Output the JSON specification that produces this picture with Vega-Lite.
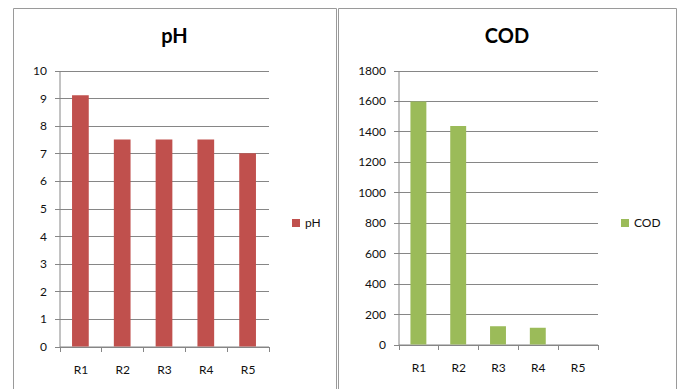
{
  "$schema": "https://vega.github.io/schema/vega-lite/v6.json",
  "background": "white",
  "padding": {"left": 12, "top": 7, "right": 0, "bottom": 0},
  "spacing": 0,
  "resolve": {"scale": {"color": "independent"}, "legend": {"color": "independent"}},
  "datasets": {
    "ph": [
      {"site": "R1", "series": "pH", "value": 9.1},
      {"site": "R2", "series": "pH", "value": 7.5},
      {"site": "R3", "series": "pH", "value": 7.5},
      {"site": "R4", "series": "pH", "value": 7.5},
      {"site": "R5", "series": "pH", "value": 7.0}
    ],
    "cod": [
      {"site": "R1", "series": "COD", "value": 1596},
      {"site": "R2", "series": "COD", "value": 1435},
      {"site": "R3", "series": "COD", "value": 120},
      {"site": "R4", "series": "COD", "value": 110},
      {"site": "R5", "series": "COD", "value": 0}
    ]
  },
  "config": {
    "view": {"stroke": "#9a9a9a", "strokeWidth": 1, "fill": "white"},
    "axis": {
      "labelFont": "Lato",
      "labelFontSize": 12,
      "labelColor": "#111111",
      "domainColor": "#868686",
      "tickColor": "#868686",
      "gridColor": "#868686",
      "tickSize": 5,
      "title": null
    },
    "legend": {
      "labelFont": "Lato",
      "labelFontSize": 12,
      "labelColor": "#111111"
    },
    "title": {"font": "Lato", "fontSize": 20, "fontWeight": "bold", "color": "#000000"}
  },
  "hconcat": [
    {
      "width": 323,
      "height": 385,
      "title": {"text": "pH", "anchor": "middle", "baseline": "middle", "offset": -49},
      "data": {"name": "ph"},
      "mark": {"type": "bar", "width": {"band": 0.4}, "color": "#C0504D"},
      "encoding": {
        "x": {
          "field": "site",
          "type": "nominal",
          "sort": null,
          "scale": {"range": [46.5, 255.5], "paddingInner": 0, "paddingOuter": 0},
          "axis": {"labelAngle": 0, "tickBand": "extent", "offset": -46.5, "labelBaseline": "middle", "labelPadding": 18, "grid": false}
        },
        "y": {
          "field": "value",
          "type": "quantitative",
          "scale": {"domain": [0, 10], "range": [338.5, 62.5], "nice": false, "zero": true},
          "axis": {"values": [0, 1, 2, 3, 4, 5, 6, 7, 8, 9, 10], "format": "d", "offset": -46.5, "labelPadding": 8, "grid": true}
        },
        "color": {
          "field": "series",
          "type": "nominal",
          "scale": {"domain": ["pH"], "range": ["#C0504D"]},
          "legend": {"orient": "none", "legendX": 277, "legendY": 209, "title": null, "symbolType": "square", "symbolSize": 64, "symbolStrokeWidth": 0, "labelOffset": 3}
        }
      }
    },
    {
      "width": 338,
      "height": 385,
      "title": {"text": "COD", "anchor": "middle", "baseline": "middle", "offset": -49},
      "data": {"name": "cod"},
      "mark": {"type": "bar", "width": {"band": 0.4}, "color": "#9BBB59"},
      "encoding": {
        "x": {
          "field": "site",
          "type": "nominal",
          "sort": null,
          "scale": {"range": [60.5, 259.5], "paddingInner": 0, "paddingOuter": 0},
          "axis": {"labelAngle": 0, "tickBand": "extent", "offset": -48.5, "labelBaseline": "middle", "labelPadding": 18, "grid": false}
        },
        "y": {
          "field": "value",
          "type": "quantitative",
          "scale": {"domain": [0, 1800], "range": [336.5, 62.5], "nice": false, "zero": true},
          "axis": {"values": [0, 200, 400, 600, 800, 1000, 1200, 1400, 1600, 1800], "format": "d", "offset": -60.5, "labelPadding": 8, "grid": true}
        },
        "color": {
          "field": "series",
          "type": "nominal",
          "scale": {"domain": ["COD"], "range": ["#9BBB59"]},
          "legend": {"orient": "none", "legendX": 281, "legendY": 209, "title": null, "symbolType": "square", "symbolSize": 64, "symbolStrokeWidth": 0, "labelOffset": 3}
        }
      }
    }
  ]
}
